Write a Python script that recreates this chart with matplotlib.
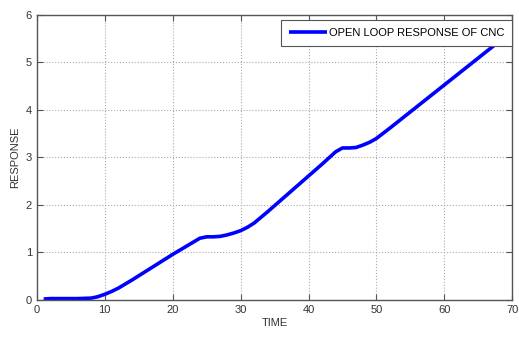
import matplotlib
matplotlib.use("Agg")
import matplotlib.pyplot as plt

# values
time = [1, 2, 4, 6, 8, 9, 10, 11, 12, 14, 16, 18, 20, 22, 24, 25, 26, 27, 28, 29,
        30, 31, 32, 34, 36, 38, 40, 42, 44, 45, 46, 47, 48, 49, 50, 52, 55, 58,
        61, 64, 67, 69]
response = [0.02, 0.03, 0.03, 0.03, 0.04, 0.07, 0.12, 0.18, 0.25, 0.42, 0.60, 0.78,
            0.96, 1.13, 1.30, 1.33, 1.33, 1.34, 1.37, 1.41, 1.46, 1.53, 1.62, 1.86,
            2.11, 2.36, 2.61, 2.86, 3.12, 3.20, 3.20, 3.21, 3.26, 3.32, 3.40, 3.62,
            3.96, 4.30, 4.64, 4.98, 5.32, 5.55]
x_ticks = [0, 10, 20, 30, 40, 50, 60, 70]
y_ticks = [0, 1, 2, 3, 4, 5, 6]

plt.rcParams['font.family'] = ['Liberation Sans', 'DejaVu Sans']

fig = plt.figure(figsize=(5.19, 3.39), dpi=100)
ax = fig.add_axes([0.071, 0.115, 0.916, 0.841])

ax.plot(time, response, color='#0000ff', linewidth=2.6, solid_capstyle='butt',
        label='OPEN LOOP RESPONSE OF CNC')

ax.set_xlim(0, 70)
ax.set_ylim(0, 6)
ax.set_xticks(x_ticks)
ax.set_yticks(y_ticks)
ax.tick_params(direction='in', top=True, right=True, labelsize=8, length=4,
               color='#555555', labelcolor='#333333')
for s in ax.spines.values():
    s.set_color('#555555')
    s.set_linewidth(1.0)
ax.grid(True, linestyle=':', color='#aaaaaa', linewidth=0.8)

ax.set_xlabel('TIME', fontsize=8, color='#333333', labelpad=2)
ax.set_ylabel('RESPONSE', fontsize=8, color='#333333', labelpad=4)

leg = ax.legend(loc='upper right', bbox_to_anchor=(1.0, 0.982), fontsize=8,
                fancybox=False, framealpha=1, edgecolor='#555555', borderaxespad=0,
                handlelength=3.4, handletextpad=0.2, borderpad=0.7)
leg.get_frame().set_linewidth(0.8)

fig.savefig('out.png', dpi=100)
